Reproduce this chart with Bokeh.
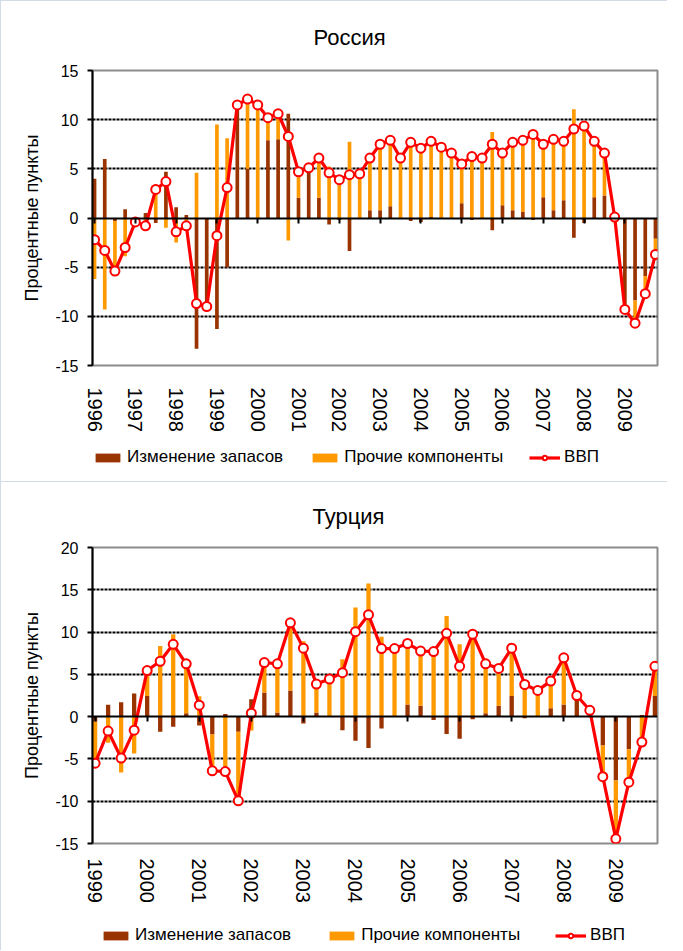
import numpy as np
from bokeh.plotting import figure
from bokeh.models import (ColumnDataSource, FixedTicker, LinearAxis, Legend,
                          LegendItem, Range1d)
from bokeh.layouts import column
from bokeh.embed import file_html
from bokeh.resources import INLINE

FONT = "Liberation Sans"
BROWN = "#993300"
ORANGE = "#FF9900"
RED = "#FF0000"
BORDER = "1px solid #D4DBE8"

# ---------------- Russia (quarterly, 1996Q1 - 2009Q4) ----------------
ru_years = ["1996", "1997", "1998", "1999", "2000", "2001", "2002",
            "2003", "2004", "2005", "2006", "2007", "2008", "2009"]
ru_gdp = [-2.2, -3.3, -5.4, -3.0, -0.4, -0.8, 2.9, 3.7, -1.4, -0.8,
          -8.7, -9.0, -1.8, 3.1, 11.5, 12.1, 11.5, 10.2, 10.6, 8.3,
          4.7, 5.1, 6.1, 4.6, 3.9, 4.4, 4.5, 6.1, 7.5, 7.9,
          6.1, 7.7, 7.1, 7.8, 7.2, 6.6, 5.5, 6.25, 6.1, 7.5,
          6.6, 7.7, 7.9, 8.5, 7.5, 8.0, 7.8, 9.05, 9.35, 7.8,
          6.6, 0.1, -9.3, -10.7, -7.7, -3.7]
ru_inv = [4.0, 6.0, -0.3, 0.9, -0.2, 0.5, -0.5, 4.7, 1.1, 0.3,
          -13.3, -9.0, -11.3, -5.0, 11.2, 5.0, 0.0, 7.9, 8.0, 10.6,
          2.05, 4.6, 2.05, -0.65, -0.2, -3.35, 0.0, 0.8, 0.8, 1.2,
          0.0, -0.3, -0.4, 0.1, 0.0, 0.0, 1.5, -0.2, 0.0, -1.25,
          1.3, 0.8, 0.6, -0.2, 2.1, 0.8, 1.8, -2.0, -0.5, 2.1,
          2.3, 0.1, -9.2, -8.4, -5.9, -2.1]
ru_oth = [-6.2, -9.3, -5.1, -3.9, -0.2, -1.3, 3.4, -1.0, -2.5, -1.1,
          4.6, 0.0, 9.5, 8.1, 0.3, 7.1, 11.5, 2.3, 2.6, -2.3,
          2.65, 0.5, 4.05, 5.25, 4.1, 7.75, 4.5, 5.3, 6.7, 6.7,
          6.1, 8.0, 7.5, 7.7, 7.2, 6.6, 4.0, 6.45, 6.1, 8.75,
          5.3, 6.9, 7.3, 8.7, 5.4, 7.2, 6.0, 11.05, 9.85, 5.7,
          4.3, 0.0, -0.1, -2.3, -1.8, -1.6]
ru_yticks = [-15, -10, -5, 0, 5, 10, 15]

# ---------------- Turkey (quarterly, 1999Q1 - 2009Q4) ----------------
tr_years = ["1999", "2000", "2001", "2002", "2003", "2004",
            "2005", "2006", "2007", "2008", "2009"]
tr_gdp = [-5.5, -1.7, -4.9, -1.6, 5.45, 6.55, 8.55, 6.25, 1.35, -6.4,
          -6.5, -9.95, 0.4, 6.4, 6.25, 11.1, 8.1, 3.85, 4.45, 5.2,
          10.05, 12.05, 8.05, 8.05, 8.65, 7.75, 7.7, 9.85, 5.95, 9.75,
          6.25, 5.7, 8.1, 3.8, 3.1, 4.2, 6.95, 2.5, 0.75, -7.1,
          -14.45, -7.75, -3.0, 5.95]
tr_inv = [-0.6, 1.4, 1.7, 2.75, 2.45, -1.8, -1.2, 0.4, -1.05, -2.1,
          0.3, -1.8, 2.05, 2.85, 0.5, 3.1, -0.8, 0.5, 0.0, -1.6,
          -2.85, -3.7, -1.4, 0.0, 1.45, 1.3, -0.4, -2.05, -2.6, -0.3,
          0.4, 1.3, 2.45, -0.2, 0.0, 1.0, 1.45, 2.5, 0.5, -3.4,
          -7.55, -3.85, 0.2, 2.45]
tr_oth = [-4.9, -3.1, -6.6, -4.35, 3.0, 8.35, 9.75, 5.85, 2.4, -4.3,
          -6.8, -8.15, -1.65, 3.55, 5.75, 8.0, 8.9, 3.35, 4.45, 6.8,
          12.9, 15.75, 9.45, 8.05, 7.2, 6.45, 8.1, 11.9, 8.55, 10.05,
          5.85, 4.4, 5.65, 4.0, 3.1, 3.2, 5.5, 0.0, 0.25, -3.7,
          -6.9, -3.9, -3.2, 3.5]
tr_yticks = [-15, -10, -5, 0, 5, 10, 15, 20]

LEG_LABELS = ["Изменение запасов", "Прочие компоненты", "ВВП"]
YLABEL = "Процентные пункты"

FIG_W = 667


def draw_series(p, src_b, src_o, src_g, bar_w):
    rb = p.vbar(x="x", top="top", bottom="bottom", width=bar_w, source=src_b,
                fill_color=BROWN, line_color=None)
    ro = p.vbar(x="x", top="top", bottom="bottom", width=bar_w, source=src_o,
                fill_color=ORANGE, line_color=None)
    rl = p.line(x="x", y="y", source=src_g, line_color=RED, line_width=3.2)
    rs = p.scatter(x="x", y="y", source=src_g, marker="circle", size=9,
                   fill_color="white", line_color=RED, line_width=2)
    return rb, ro, rl, rs


def chart(title, years, inv, oth, gdp, yticks, h, btop, bbot, title_standoff,
          title_offset, lab_standoff, bar_w):
    inv = np.asarray(inv, dtype=float)
    oth = np.asarray(oth, dtype=float)
    gdp = np.asarray(gdp, dtype=float)
    n = len(gdp)
    x = np.arange(n)
    pos = np.maximum(inv, 0)
    neg = np.minimum(inv, 0)
    o_bot = np.where(oth >= 0, pos, neg + oth)
    o_top = np.where(oth >= 0, pos + oth, neg)
    src_b = ColumnDataSource(dict(x=x, top=pos, bottom=neg))
    src_o = ColumnDataSource(dict(x=x, top=o_top, bottom=o_bot))
    src_g = ColumnDataSource(dict(x=x, y=gdp))

    p = figure(width=FIG_W, height=h,
               x_range=Range1d(-0.2, n - 0.8),
               y_range=Range1d(min(yticks), max(yticks)),
               output_backend="svg", toolbar_location=None,
               min_border_left=91, min_border_right=11,
               min_border_top=btop, min_border_bottom=bbot,
               background_fill_color="white", border_fill_color="white",
               styles={"border-left": BORDER, "border-top": BORDER})

    p.title.text = title
    p.title.align = "left"
    p.title.offset = title_offset
    p.title.text_font = FONT
    p.title.text_font_size = "22px"
    p.title.text_font_style = "normal"
    p.title.text_color = "black"
    p.title.standoff = title_standoff

    p.outline_line_color = "#8C8C8C"
    p.outline_line_width = 2

    p.xgrid.visible = False
    p.ygrid.ticker = FixedTicker(ticks=[t for t in yticks if t not in (min(yticks), max(yticks), 0)])
    p.ygrid.grid_line_color = "black"
    p.ygrid.grid_line_width = 1.8
    p.ygrid.grid_line_dash = "3 1"

    yax = p.yaxis[0]
    yax.ticker = FixedTicker(ticks=yticks)
    yax.major_label_overrides = {t: str(t) for t in yticks}
    yax.major_label_text_font = FONT
    yax.major_label_text_font_size = "16px"
    yax.major_label_text_color = "black"
    yax.axis_line_color = "black"
    yax.axis_line_width = 2
    yax.major_tick_line_color = "black"
    yax.major_tick_line_width = 2
    yax.major_tick_in = 0
    yax.major_tick_out = 5
    yax.minor_tick_line_color = None
    yax.major_label_standoff = 9
    yax.axis_label = YLABEL
    yax.axis_label_text_font = FONT
    yax.axis_label_text_font_size = "18px"
    yax.axis_label_text_font_style = "normal"
    yax.axis_label_text_color = "black"
    yax.axis_label_standoff = 10

    tick_idx = [4 * i for i in range(len(years))]
    xax = p.xaxis[0]
    xax.ticker = FixedTicker(ticks=tick_idx)
    xax.major_label_overrides = {t: y for t, y in zip(tick_idx, years)}
    xax.major_label_orientation = "vertical"
    xax.major_label_text_font = FONT
    xax.major_label_text_font_size = "20px"
    xax.major_label_text_color = "black"
    xax.axis_line_color = None
    xax.major_tick_line_color = None
    xax.minor_tick_line_color = None
    xax.major_tick_out = 0
    xax.major_tick_in = 0
    xax.major_label_standoff = lab_standoff

    zax = LinearAxis(fixed_location=0, ticker=FixedTicker(ticks=tick_idx),
                     major_label_overrides={t: "" for t in tick_idx},
                     major_label_text_font_size="1px",
                     axis_line_color="black", axis_line_width=2,
                     major_tick_line_color="black", major_tick_line_width=2,
                     major_tick_in=0, major_tick_out=5,
                     minor_tick_line_color=None, major_label_standoff=0)
    p.add_layout(zax, "below")

    draw_series(p, src_b, src_o, src_g, bar_w)
    return p


def legend_strip(h, leg_x, leg_y, spacing):
    nan_bar = dict(x=[np.nan], top=[np.nan], bottom=[np.nan])
    nan_line = dict(x=[np.nan], y=[np.nan])
    lf = figure(width=FIG_W, height=h, x_range=Range1d(0, 1), y_range=Range1d(0, 1),
                output_backend="svg", toolbar_location=None,
                x_axis_location=None, y_axis_location=None,
                min_border_left=0, min_border_right=0,
                min_border_top=0, min_border_bottom=0,
                outline_line_color=None,
                background_fill_color="white", border_fill_color="white",
                styles={"border-left": BORDER})
    lf.grid.visible = False
    rb, ro, rl, rs = draw_series(lf, ColumnDataSource(nan_bar),
                                 ColumnDataSource(dict(nan_bar)),
                                 ColumnDataSource(nan_line), 0.3)
    legend = Legend(items=[LegendItem(label=LEG_LABELS[0], renderers=[rb]),
                           LegendItem(label=LEG_LABELS[1], renderers=[ro]),
                           LegendItem(label=LEG_LABELS[2], renderers=[rl, rs])],
                    orientation="horizontal", location=(leg_x, leg_y),
                    label_text_font=FONT, label_text_font_size="17px",
                    label_text_color="black",
                    glyph_width=31, glyph_height=11, label_standoff=4,
                    spacing=spacing, padding=0, margin=0,
                    border_line_color=None, background_fill_alpha=0)
    lf.add_layout(legend, "center")
    return lf


p1 = chart("Россия", ru_years, ru_inv, ru_oth, ru_gdp, ru_yticks,
           h=444, btop=69, bbot=80, title_standoff=41, title_offset=221,
           lab_standoff=22, bar_w=0.36)
l1 = legend_strip(h=37, leg_x=0, leg_y=14, spacing=26)
p2 = chart("Турция", tr_years, tr_inv, tr_oth, tr_gdp, tr_yticks,
           h=440, btop=65, bbot=79, title_standoff=38, title_offset=220,
           lab_standoff=15, bar_w=0.33)
l2 = legend_strip(h=29, leg_x=8, leg_y=5, spacing=35)

layout = column(p1, l1, p2, l2, spacing=0)
open("out.html", "w").write(file_html(layout, INLINE))
